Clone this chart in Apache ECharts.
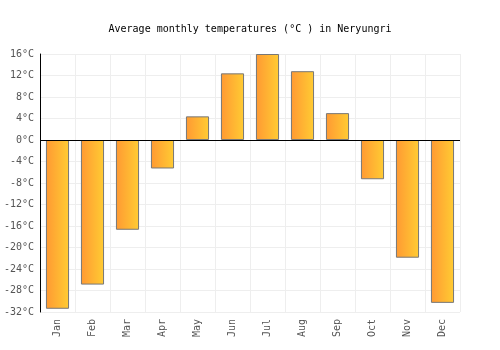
<!DOCTYPE html>
<html>
<head>
<meta charset="utf-8">
<script src="https://cdn.jsdelivr.net/npm/echarts@6/dist/echarts.min.js"></script>
<style>
  html, body { margin: 0; padding: 0; background: #fff; }
  #chart { width: 500px; height: 350px; }
</style>
</head>
<body>
<div id="chart"></div>
<script>
const months = ['Jan', 'Feb', 'Mar', 'Apr', 'May', 'Jun', 'Jul', 'Aug', 'Sep', 'Oct', 'Nov', 'Dec']
const temps = [-31.4, -26.9, -16.7, -5.3, 4.4, 12.4, 16.0, 12.8, 5.0, -7.3, -21.9, -30.3]

const chart = echarts.init(document.getElementById('chart'))
const font = 'DejaVu Sans Mono'

chart.setOption({
  animation: false,
  title: {
    text: 'Average monthly temperatures (°C ) in Neryungri',
    left: 'center',
    top: 19,
    textStyle: { fontFamily: font, fontSize: 10, fontWeight: 'normal', color: '#000' },
  },
  grid: { left: 40, right: 40, top: 54, bottom: 38 },
  xAxis: {
    type: 'category',
    data: months,
    axisLine: { show: false },
    axisTick: { show: false },
    splitLine: { show: true, interval: 0, lineStyle: { color: '#eee' } },
    axisLabel: { rotate: 90, interval: 0, color: '#555', fontFamily: font, fontSize: 10, margin: 7 },
  },
  yAxis: {
    type: 'value',
    min: -32,
    max: 16,
    interval: 4,
    axisLine: { show: true, lineStyle: { color: '#000' } },
    axisTick: { show: false },
    splitLine: { lineStyle: { color: '#eee' } },
    axisLabel: { formatter: '{value}°C', color: '#555', fontFamily: font, fontSize: 10, margin: 6 },
  },
  series: [{
    type: 'bar',
    data: temps,
    barWidth: '66%',
    itemStyle: {
      borderColor: '#777',
      borderWidth: 1,
      color: new echarts.graphic.LinearGradient(0, 0, 1, 0, [
        { offset: 0, color: '#ff9933' },
        { offset: 1, color: '#ffcc33' },
      ]),
    },
    markLine: {
      silent: true,
      symbol: 'none',
      label: { show: false },
      lineStyle: { color: '#000', type: 'solid', width: 1 },
      data: [{ yAxis: 0 }],
    },
  }],
})
</script>
</body>
</html>
